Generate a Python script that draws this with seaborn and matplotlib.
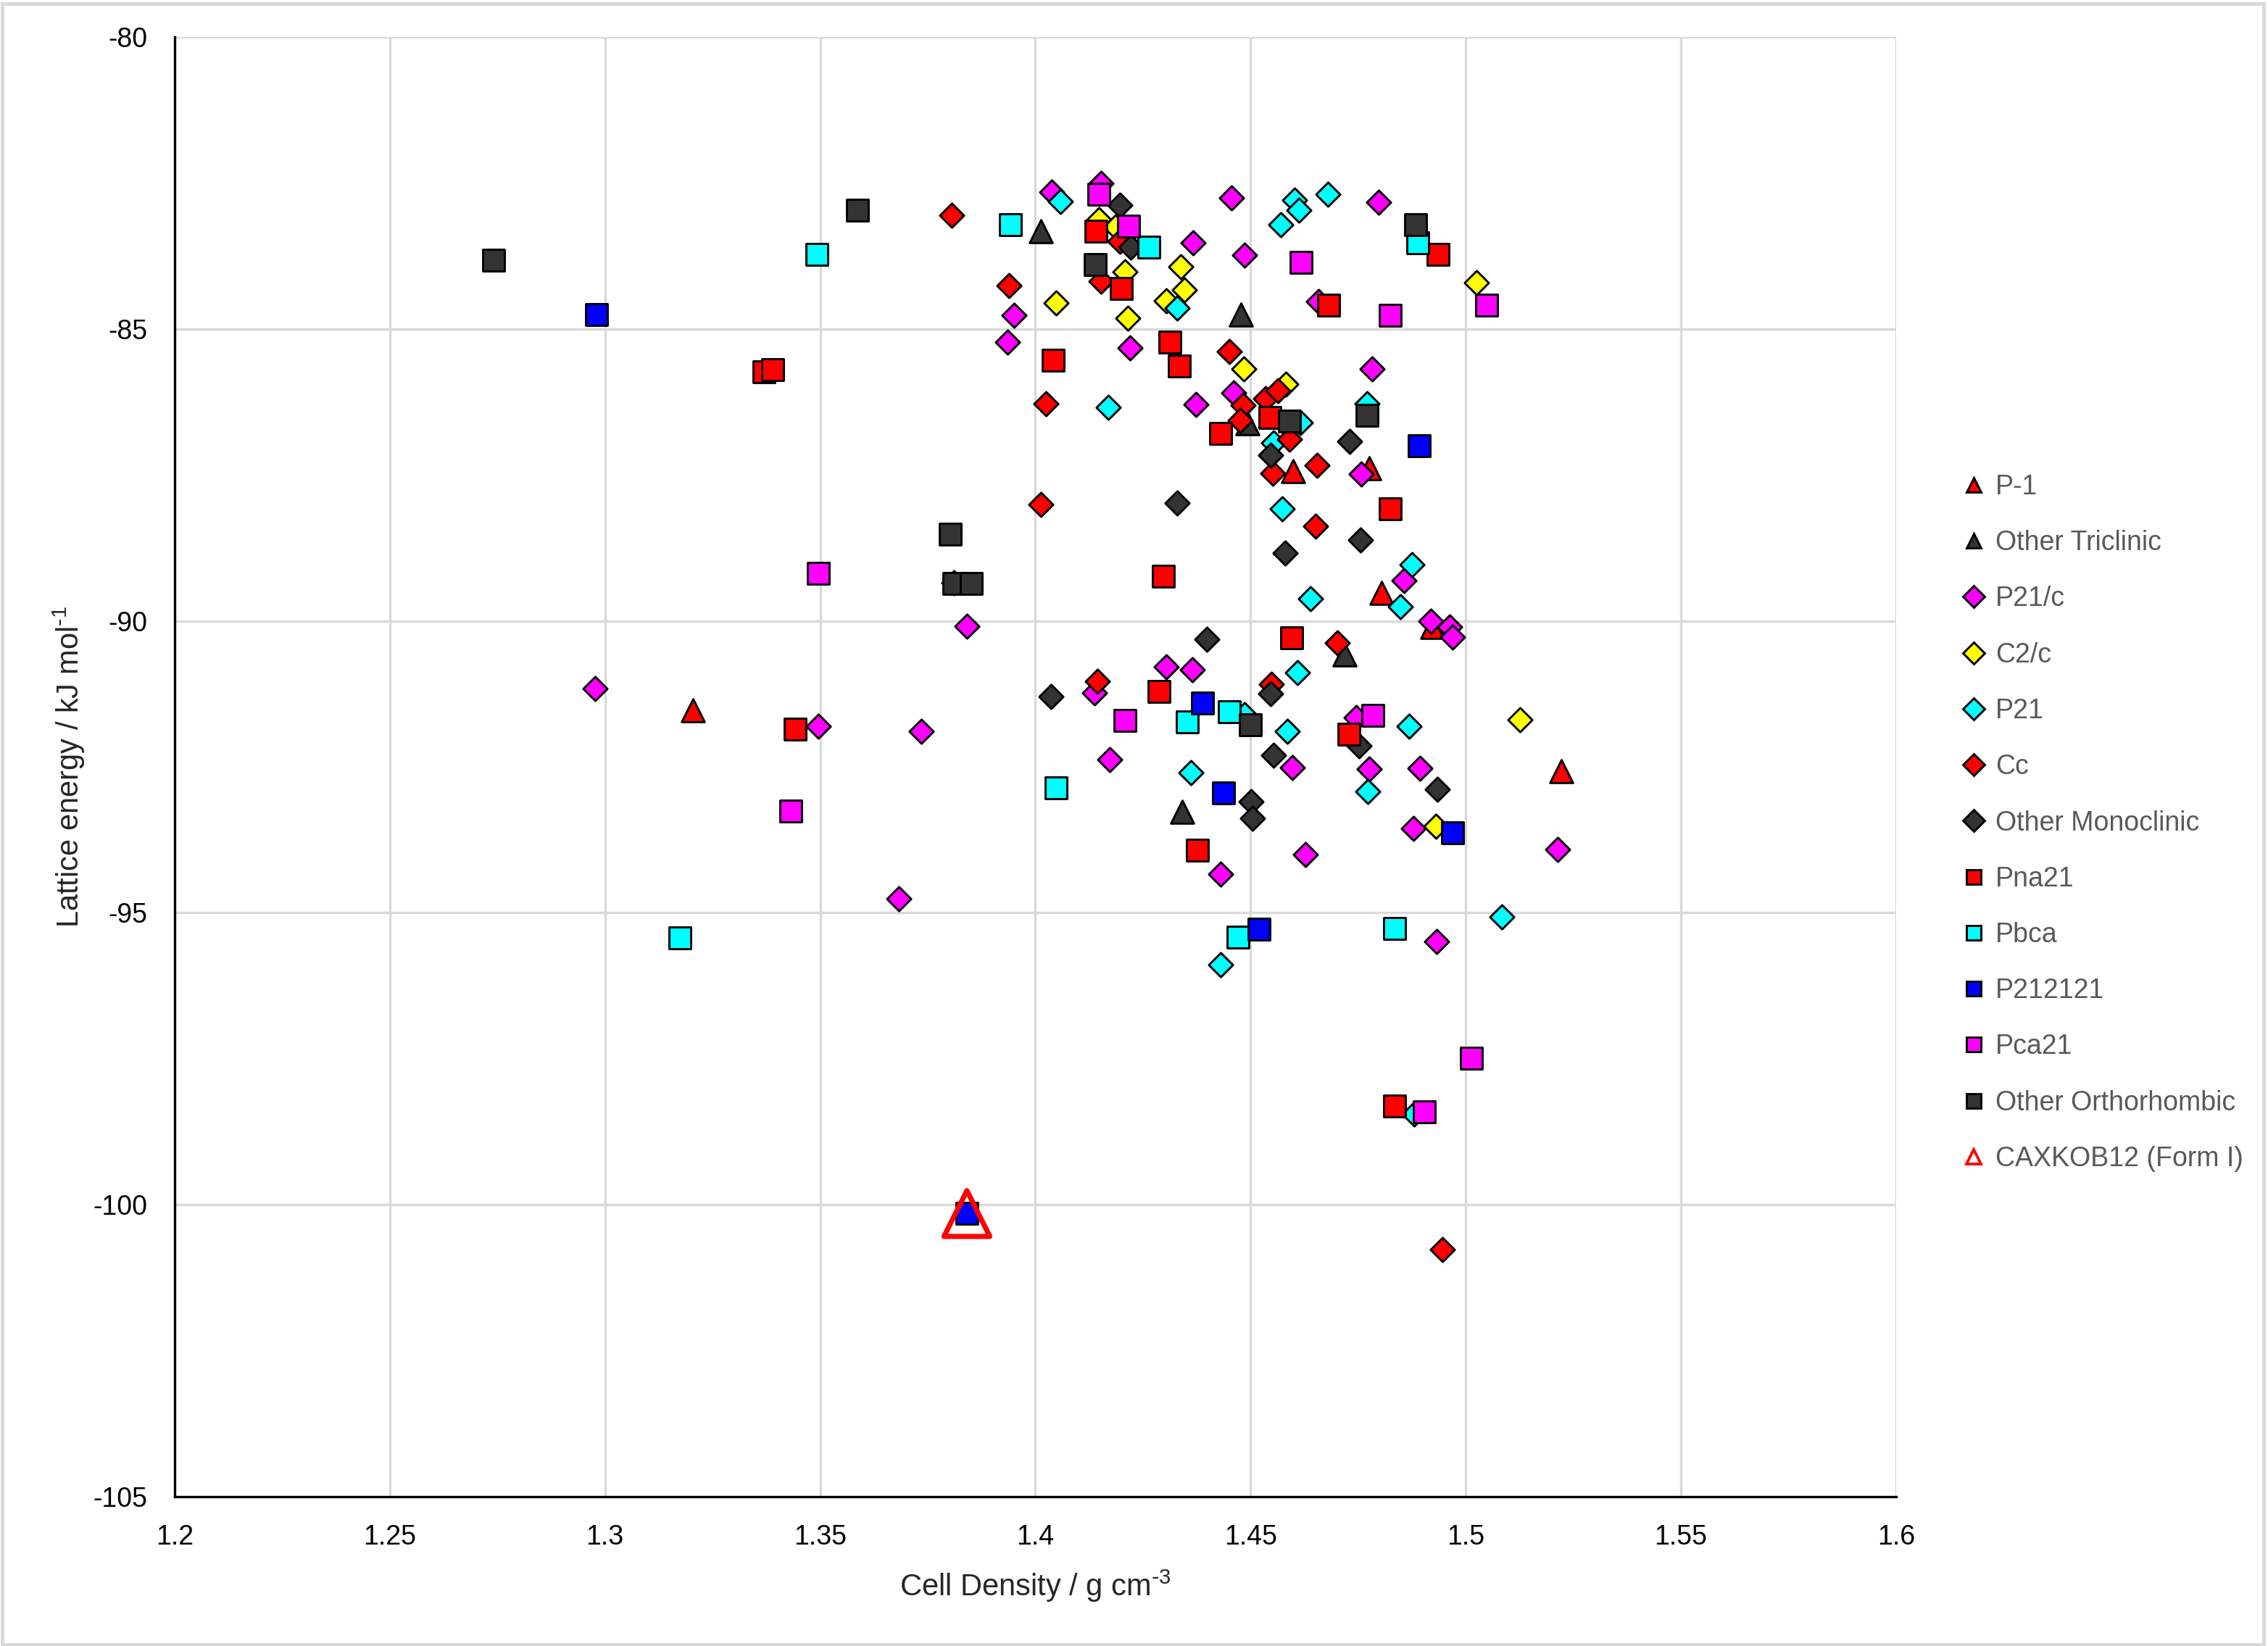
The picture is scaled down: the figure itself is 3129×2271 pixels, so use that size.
import numpy as np
import pandas as pd
import seaborn as sns
import matplotlib.pyplot as plt
from matplotlib.lines import Line2D
from matplotlib.patches import Rectangle

# data: cell density (g cm-3) and lattice energy (kJ mol-1)
p1_x = [1.3204, 1.4599, 1.4776, 1.4805, 1.4922, 1.5222]
p1_y = [-91.53, -87.43, -87.39, -89.52, -90.10, -92.57]

otri_x = [1.4013, 1.4478, 1.4492, 1.4719, 1.4341]
otri_y = [-83.33, -84.75, -86.62, -90.57, -93.27]

p21c_x = [1.2977, 1.3495, 1.3735, 1.3683, 1.3841, 1.3936, 1.3950, 1.4038, 1.4152,
          1.4455, 1.4367, 1.4486, 1.4220, 1.4373, 1.4460, 1.4797, 1.4658, 1.4783,
          1.4758, 1.4856, 1.4919, 1.4962, 1.4970, 1.4304, 1.4365, 1.4138, 1.4172,
          1.4431, 1.4745, 1.4598, 1.4776, 1.4894, 1.4879, 1.4627, 1.5214, 1.4933]
p21c_y = [-91.16, -91.81, -91.89, -94.76, -90.09, -85.22, -84.76, -82.65, -82.51,
          -82.76, -83.52, -83.73, -85.32, -86.29, -86.10, -82.83, -84.53, -85.69,
          -87.49, -89.31, -90.00, -90.10, -90.28, -90.79, -90.83, -91.23, -92.38,
          -94.34, -91.65, -92.51, -92.54, -92.52, -93.56, -94.00, -93.91, -95.49]

c2c_x = [1.4148, 1.4186, 1.4209, 1.4049, 1.4215, 1.4338, 1.4347, 1.4305, 1.4484,
         1.4582, 1.5025, 1.5126, 1.4931]
c2c_y = [-83.13, -83.25, -84.02, -84.55, -84.81, -83.94, -84.33, -84.52, -85.69,
         -85.94, -84.21, -91.69, -93.52]

p21_x = [1.4059, 1.4330, 1.4170, 1.4603, 1.4613, 1.4680, 1.4570, 1.4771, 1.4615,
         1.4554, 1.4574, 1.4876, 1.4640, 1.4848, 1.4609, 1.4486, 1.4585, 1.4869,
         1.4773, 1.4362, 1.4431, 1.5084, 1.4881]
p21_y = [-82.82, -84.64, -86.34, -82.79, -82.97, -82.69, -83.22, -86.28, -86.60,
         -86.95, -88.08, -89.04, -89.62, -89.75, -90.88, -91.60, -91.89, -91.80,
         -92.92, -92.60, -95.89, -95.07, -98.45]

cc_x = [1.3805, 1.3938, 1.4152, 1.4197, 1.4024, 1.4012, 1.4450, 1.4482, 1.4476,
        1.4535, 1.4563, 1.4591, 1.4654, 1.4552, 1.4651, 1.4702, 1.4145, 1.4549, 1.4946]
cc_y = [-83.05, -84.26, -84.18, -83.50, -86.28, -88.00, -85.39, -86.30, -86.56,
        -86.19, -86.06, -86.89, -87.34, -87.47, -88.38, -90.38, -91.04, -91.09, -100.77]

omono_x = [1.4196, 1.4221, 1.4329, 1.4731, 1.4546, 1.4581, 1.4755, 1.4399, 1.4037,
           1.4546, 1.4553, 1.4753, 1.4934, 1.4501, 1.4504, 1.3810]
omono_y = [-82.88, -83.60, -87.98, -86.93, -87.16, -88.84, -88.61, -90.32, -91.30,
           -91.25, -92.30, -92.14, -92.88, -93.09, -93.38, -89.35]

pna21_x = [1.3369, 1.3389, 1.3442, 1.4140, 1.4199, 1.4041, 1.4313, 1.4334, 1.4430,
           1.4545, 1.4936, 1.4682, 1.4825, 1.4297, 1.4596, 1.4287, 1.4728, 1.4376, 1.4835]
pna21_y = [-85.73, -85.70, -91.85, -83.32, -84.31, -85.54, -85.22, -85.64, -86.79,
           -86.52, -83.72, -84.59, -88.08, -89.24, -90.29, -91.21, -91.94, -93.93, -98.31]

pbca_x = [1.3492, 1.3942, 1.4263, 1.4889, 1.4048, 1.4353, 1.4450, 1.3174, 1.4471, 1.4835]
pbca_y = [-83.72, -83.21, -83.60, -83.53, -92.86, -91.73, -91.56, -95.43, -95.42, -95.27]

p212121_x = [1.2981, 1.4892, 1.4388, 1.4438, 1.4969, 1.4520, 1.3841]
p212121_y = [-84.75, -87.00, -91.41, -92.95, -93.63, -95.28, -100.14]

pca21_x = [1.3496, 1.3431, 1.4148, 1.4216, 1.4618, 1.5049, 1.4825, 1.4208, 1.4785,
           1.5013, 1.4903]
pca21_y = [-89.18, -93.26, -82.69, -83.24, -83.86, -84.59, -84.76, -91.71, -91.62,
           -97.49, -98.41]

oortho_x = [1.2742, 1.3586, 1.3802, 1.3811, 1.3851, 1.4139, 1.4883, 1.4590, 1.4771, 1.4499]
oortho_y = [-83.82, -82.96, -88.52, -89.36, -89.36, -83.90, -83.21, -86.58, -86.48, -91.78]

form1_x = [1.3841]
form1_y = [-100.15]

series = [
    ("P-1", p1_x, p1_y, "^", "#FF0000"),
    ("Other Triclinic", otri_x, otri_y, "^", "#333333"),
    ("P21/c", p21c_x, p21c_y, "D", "#FF00FF"),
    ("C2/c", c2c_x, c2c_y, "D", "#FFFF00"),
    ("P21", p21_x, p21_y, "D", "#00FFFF"),
    ("Cc", cc_x, cc_y, "D", "#FF0000"),
    ("Other Monoclinic", omono_x, omono_y, "D", "#333333"),
    ("Pna21", pna21_x, pna21_y, "s", "#FF0000"),
    ("Pbca", pbca_x, pbca_y, "s", "#00FFFF"),
    ("P212121", p212121_x, p212121_y, "s", "#0000FF"),
    ("Pca21", pca21_x, pca21_y, "s", "#FF00FF"),
    ("Other Orthorhombic", oortho_x, oortho_y, "s", "#333333"),
]
sizes = {"^": 58, "D": 32, "s": 54}

sns.set_theme(style="white")
plt.rcParams['font.family'] = ['Liberation Sans', 'DejaVu Sans']
plt.rcParams['mathtext.default'] = 'regular'
plt.rcParams['axes.unicode_minus'] = False

fig = plt.figure(figsize=(3129 / 300, 2271 / 300), dpi=300)
ax = fig.add_axes([0.077, 0.0907, 0.759, 0.8868])

for name, xs, ys, mk, col in series:
    df = pd.DataFrame({"density": xs, "energy": ys})
    sns.scatterplot(data=df, x="density", y="energy", ax=ax, marker=mk, color=col,
                    s=sizes[mk], edgecolor="black", linewidth=0.7, zorder=3)

# the experimental form, drawn as an open triangle
df1 = pd.DataFrame({"density": form1_x, "energy": form1_y})
sns.scatterplot(data=df1, x="density", y="energy", ax=ax, marker="^", s=230,
                facecolor="none", edgecolor="#FF0000", linewidth=1.7, zorder=4)

ax.set_xlim(1.2, 1.6)
ax.set_ylim(-105, -80)
ax.set_xticks(np.arange(1.2, 1.61, 0.05))
ax.set_xticklabels(["1.2", "1.25", "1.3", "1.35", "1.4", "1.45", "1.5", "1.55", "1.6"])
ax.set_yticks([-105, -100, -95, -90, -85, -80])
ax.grid(True, color="#D9D9D9", linewidth=0.8)
ax.set_axisbelow(True)
for side in ["top", "right"]:
    ax.spines[side].set_visible(False)
ax.spines["left"].set_color("black")
ax.spines["bottom"].set_color("black")
ax.spines["left"].set_linewidth(0.8)
ax.spines["bottom"].set_linewidth(0.8)
ax.tick_params(axis="both", length=0, labelsize=9, colors="black")
ax.tick_params(axis="x", pad=9)
ax.tick_params(axis="y", pad=9)

ax.set_xlabel(r"Cell Density / g cm$^{\text{-}3}$", fontsize=10, labelpad=6)
ax.set_ylabel(r"Lattice energy / kJ mol$^{\text{-}1}$", fontsize=10, labelpad=2)

handles = []
for name, xs, ys, mk, col in series:
    handles.append(Line2D([], [], linestyle="none", marker=mk, markersize=5,
                          markerfacecolor=col, markeredgecolor="black",
                          markeredgewidth=0.7, label=name))
handles.append(Line2D([], [], linestyle="none", marker="^", markersize=5,
                      markerfacecolor="none", markeredgecolor="#FF0000",
                      markeredgewidth=0.9, label="CAXKOB12 (Form I)"))
leg = fig.legend(handles=handles, loc="center left", bbox_to_anchor=(0.8595, 0.5),
                 frameon=False, fontsize=9, labelspacing=1.1, handletextpad=0.3,
                 handlelength=1.0, borderaxespad=0)
for t in leg.get_texts():
    t.set_color("#595959")

fig.patches.append(Rectangle((0.001, 0.001), 0.997, 0.997, transform=fig.transFigure,
                             fill=False, edgecolor="#D9D9D9", linewidth=1.2))

fig.savefig("out.png", dpi=300)
